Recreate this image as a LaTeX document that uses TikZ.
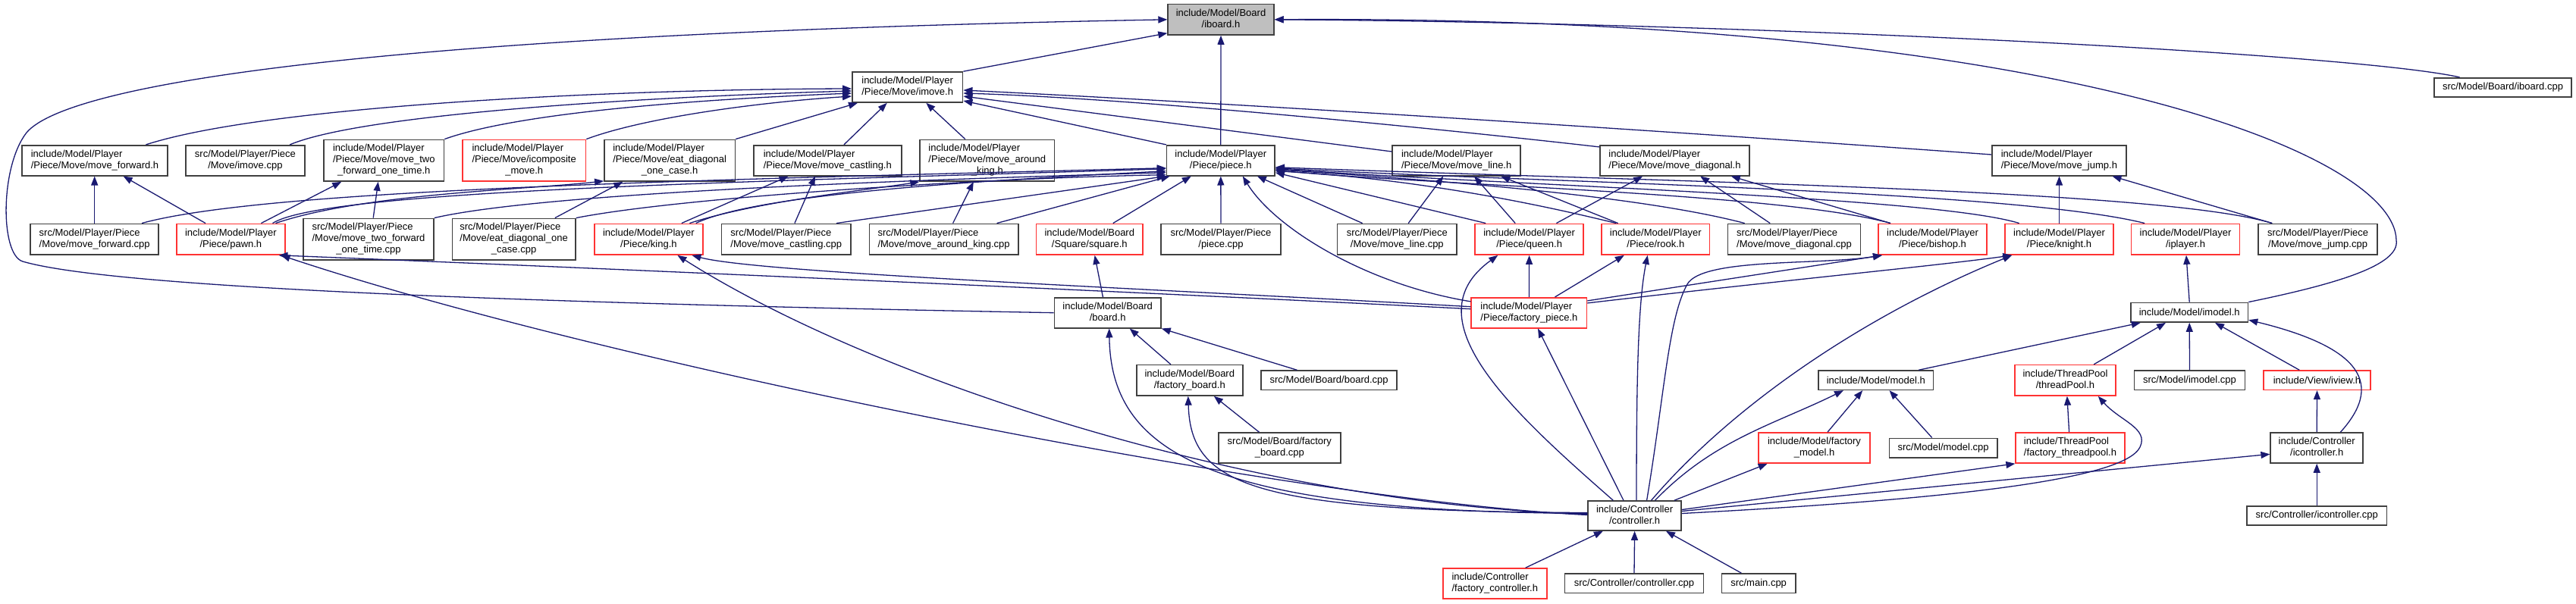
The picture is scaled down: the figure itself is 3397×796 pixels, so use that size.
\documentclass[tikz,border=0pt]{standalone}
\usepackage{fontspec}
\setmainfont{Liberation Sans}
\usetikzlibrary{arrows.meta,calc}
\definecolor{eblue}{HTML}{191970}
\definecolor{nred}{RGB}{255,51,51}
\definecolor{ngrey}{HTML}{BFBFBF}
\definecolor{nline}{HTML}{404040}
\newcommand\LabTwo[2]{\begin{tabular}{@{}l@{}}#1\\\multicolumn{1}{@{}c@{}}{#2}\end{tabular}}
\newcommand\LabThree[3]{\begin{tabular}{@{}l@{}}#1\\#2\\\multicolumn{1}{@{}c@{}}{#3}\end{tabular}}
\tikzset{
  nb/.style={draw=nline, line width=1.6pt, inner sep=0pt, fill=white, font=\fontsize{13}{15}\selectfont},
  rb/.style={nb, draw=nred},
  gb/.style={nb, fill=ngrey},
  dep/.style={draw=eblue, line width=1.3pt, -{Triangle[length=12pt,width=9pt]}},
}
\begin{document}
\begin{tikzpicture}[x=1pt,y=-1pt]
\useasboundingbox (0,0) rectangle (3397,796);
% ---------- nodes ----------
\node[gb, minimum width=139.8pt, minimum height=40.3pt] (iboard) at (1610,25.8) {\LabTwo{include/Model/Board}{/iboard.h}};
\node[nb, minimum width=181pt, minimum height=25pt] (iboardcpp) at (3300.5,115.2) {src/Model/Board/iboard.cpp};
\node[nb, minimum width=145.8pt, minimum height=40pt] (imove) at (1196.7,115) {\LabTwo{include/Model/Player}{/Piece/Move/imove.h}};
% row 2
\node[nb, minimum width=192.5pt, minimum height=40pt] (mfwdh) at (125,211.7) {\LabTwo{include/Model/Player}{/Piece/Move/move\_forward.h}};
\node[nb, minimum width=156.7pt, minimum height=40pt] (imovecpp) at (323.4,211.7) {\LabTwo{src/Model/Player/Piece}{/Move/imove.cpp}};
\node[nb, minimum width=158.3pt, minimum height=54.7pt] (m2fh) at (506.3,211.7) {\LabThree{include/Model/Player}{/Piece/Move/move\_two}{\_forward\_one\_time.h}};
\node[rb, minimum width=162.6pt, minimum height=54.7pt] (icomp) at (691.2,211.7) {\LabThree{include/Model/Player}{/Piece/Move/icomposite}{\_move.h}};
\node[nb, minimum width=172.4pt, minimum height=54.7pt] (eatdh) at (883.1,211.7) {\LabThree{include/Model/Player}{/Piece/Move/eat\_diagonal}{\_one\_case.h}};
\node[nb, minimum width=195.1pt, minimum height=40pt] (mcasth) at (1091.3,211.7) {\LabTwo{include/Model/Player}{/Piece/Move/move\_castling.h}};
\node[nb, minimum width=177.3pt, minimum height=54.7pt] (maroundh) at (1301.8,211.7) {\LabThree{include/Model/Player}{/Piece/Move/move\_around}{\_king.h}};
\node[nb, minimum width=142.5pt, minimum height=40pt] (piece) at (1609.8,211.7) {\LabTwo{include/Model/Player}{/Piece/piece.h}};
\node[nb, minimum width=169.1pt, minimum height=40pt] (mlineh) at (1920.7,211.7) {\LabTwo{include/Model/Player}{/Piece/Move/move\_line.h}};
\node[nb, minimum width=197.3pt, minimum height=40pt] (mdiagh) at (2208.5,211.7) {\LabTwo{include/Model/Player}{/Piece/Move/move\_diagonal.h}};
\node[nb, minimum width=177.3pt, minimum height=40pt] (mjumph) at (2715.4,211.7) {\LabTwo{include/Model/Player}{/Piece/Move/move\_jump.h}};
% row 3
\node[nb, minimum width=169.1pt, minimum height=40.7pt] (mfwdcpp) at (124.7,315.7) {\LabTwo{src/Model/Player/Piece}{/Move/move\_forward.cpp}};
\node[rb, minimum width=142.6pt, minimum height=40.7pt] (pawn) at (304.4,315.7) {\LabTwo{include/Model/Player}{/Piece/pawn.h}};
\node[nb, minimum width=171.8pt, minimum height=54.7pt] (m2fcpp) at (486,315.7) {\LabThree{src/Model/Player/Piece}{/Move/move\_two\_forward}{\_one\_time.cpp}};
\node[nb, minimum width=162.6pt, minimum height=54.7pt] (eatdcpp) at (677.6,315.7) {\LabThree{src/Model/Player/Piece}{/Move/eat\_diagonal\_one}{\_case.cpp}};
\node[rb, minimum width=143.1pt, minimum height=40.7pt] (king) at (855.4,315.7) {\LabTwo{include/Model/Player}{/Piece/king.h}};
\node[nb, minimum width=170.7pt, minimum height=40.7pt] (mcastcpp) at (1036.8,315.7) {\LabTwo{src/Model/Player/Piece}{/Move/move\_castling.cpp}};
\node[nb, minimum width=196.3pt, minimum height=40.7pt] (maroundcpp) at (1244.6,315.7) {\LabTwo{src/Model/Player/Piece}{/Move/move\_around\_king.cpp}};
\node[rb, minimum width=140.4pt, minimum height=40.7pt] (square) at (1436.8,315.7) {\LabTwo{include/Model/Board}{/Square/square.h}};
\node[nb, minimum width=158.3pt, minimum height=40.7pt] (piececpp) at (1610,315.7) {\LabTwo{src/Model/Player/Piece}{/piece.cpp}};
\node[nb, minimum width=157.8pt, minimum height=40.7pt] (mlinecpp) at (1842.3,315.7) {\LabTwo{src/Model/Player/Piece}{/Move/move\_line.cpp}};
\node[rb, minimum width=143.1pt, minimum height=40.7pt] (queen) at (2016.6,315.7) {\LabTwo{include/Model/Player}{/Piece/queen.h}};
\node[rb, minimum width=142.6pt, minimum height=40.7pt] (rook) at (2183.3,315.7) {\LabTwo{include/Model/Player}{/Piece/rook.h}};
\node[nb, minimum width=175.1pt, minimum height=40.7pt] (mdiagcpp) at (2366,315.7) {\LabTwo{src/Model/Player/Piece}{/Move/move\_diagonal.cpp}};
\node[rb, minimum width=143.4pt, minimum height=40.7pt] (bishop) at (2548.5,315.7) {\LabTwo{include/Model/Player}{/Piece/bishop.h}};
\node[rb, minimum width=143.1pt, minimum height=40.7pt] (knight) at (2715.5,315.7) {\LabTwo{include/Model/Player}{/Piece/knight.h}};
\node[rb, minimum width=143.1pt, minimum height=40.7pt] (iplayer) at (2882,315.7) {\LabTwo{include/Model/Player}{/iplayer.h}};
\node[nb, minimum width=157.2pt, minimum height=40.7pt] (mjumpcpp) at (3056.6,315.7) {\LabTwo{src/Model/Player/Piece}{/Move/move\_jump.cpp}};
% row 4
\node[nb, minimum width=140.4pt, minimum height=40pt] (board) at (1460.7,412.7) {\LabTwo{include/Model/Board}{/board.h}};
\node[rb, minimum width=152.3pt, minimum height=40pt] (fpiece) at (2016.4,412.7) {\LabTwo{include/Model/Player}{/Piece/factory\_piece.h}};
\node[nb, minimum width=154.5pt, minimum height=25.7pt] (imodel) at (2887.2,412.2) {include/Model/imodel.h};
% row 5
\node[nb, minimum width=139.9pt, minimum height=40.3pt] (fboard) at (1568.8,501.8) {\LabTwo{include/Model/Board}{/factory\_board.h}};
\node[nb, minimum width=178.9pt, minimum height=25.3pt] (boardcpp) at (1752.6,501.7) {src/Model/Board/board.cpp};
\node[nb, minimum width=151.2pt, minimum height=25.3pt] (model) at (2473.8,501.7) {include/Model/model.h};
\node[rb, minimum width=132.9pt, minimum height=40.3pt] (threadpool) at (2723.5,501.8) {\LabTwo{include/ThreadPool}{/threadPool.h}};
\node[nb, minimum width=146.3pt, minimum height=25.3pt] (imodelcpp) at (2887.5,501.7) {src/Model/imodel.cpp};
\node[rb, minimum width=141pt, minimum height=25.3pt] (iview) at (3055.5,501.7) {include/View/iview.h};
% row 6
\node[nb, minimum width=161pt, minimum height=40pt] (fboardcpp) at (1687.3,591) {\LabTwo{src/Model/Board/factory}{\_board.cpp}};
\node[rb, minimum width=146.9pt, minimum height=40pt] (fmodel) at (2392.5,591) {\LabTwo{include/Model/factory}{\_model.h}};
\node[nb, minimum width=142.2pt, minimum height=25.4pt] (modelcpp) at (2562.6,591) {src/Model/model.cpp};
\node[rb, minimum width=143.7pt, minimum height=40pt] (fthreadpool) at (2730,591) {\LabTwo{include/ThreadPool}{/factory\_threadpool.h}};
\node[nb, minimum width=122pt, minimum height=40pt] (icontroller) at (3055.2,591) {\LabTwo{include/Controller}{/icontroller.h}};
% row 7
\node[nb, minimum width=123.1pt, minimum height=39pt] (controller) at (2155.6,680.5) {\LabTwo{include/Controller}{/controller.h}};
\node[nb, minimum width=184.8pt, minimum height=25pt] (icontrollercpp) at (3055.2,680.2) {src/Controller/icontroller.cpp};
% row 8
\node[rb, minimum width=137.2pt, minimum height=40pt] (fcontroller) at (1971.3,770) {\LabTwo{include/Controller}{/factory\_controller.h}};
\node[nb, minimum width=182.7pt, minimum height=25.7pt] (controllercpp) at (2155,769.8) {src/Controller/controller.cpp};
\node[nb, minimum width=97.6pt, minimum height=25.7pt] (maincpp) at (2319.1,769.8) {src/main.cpp};
% ---------- edges ----------
% to iboard
\draw[dep] (imove.north east) -- ($(iboard.south west)+(0,-3)$);
\draw[dep] (piece.north) -- (iboard.south);
\draw[dep] (board.west) .. controls (700,400) and (150,380) .. (30,345) .. controls (0,336) and (0,220) .. (35,175) .. controls (90,110) and (500,45) .. (iboard.west);
\draw[dep] ($(iboardcpp.north)+(-57,0)$) .. controls (3100,70) and (2300,30) .. (iboard.east);
\draw[dep] (imodel.north east) .. controls (3080,375) and (3165,350) .. (3160,317) .. controls (3158,200) and (2700,20) .. (iboard.east);
% to imove
\draw[dep] ($(mfwdh.north)+(67.4,0)$) .. controls (350,140) and (800,118) .. ($(imove.west)+(0,2)$);
\draw[dep] ($(imovecpp.north)+(58.8,0)$) .. controls (480,150) and (850,128) .. ($(imove.west)+(0,5)$);
\draw[dep] (m2fh.north east) .. controls (680,150) and (900,132) .. ($(imove.west)+(0,8)$);
\draw[dep] (icomp.north east) .. controls (850,155) and (1000,135) .. ($(imove.west)+(0,12)$);
\draw[dep] (eatdh.north east) -- ($(imove.south west)+(8,0)$);
\draw[dep] ($(mcasth.north)+(21.6,0)$) -- ($(imove.south)+(-27,0)$);
\draw[dep] ($(maroundh.north)+(-29,0)$) -- ($(imove.south)+(24.6,0)$);
\draw[dep] (piece.north west) -- ($(imove.east)+(0,18)$);
\draw[dep] ($(mlineh.west)+(0,-11.7)$) -- ($(imove.east)+(0,12)$);
\draw[dep] ($(mdiagh.north west)+(0,3)$) .. controls (1900,170) and (1500,130) .. ($(imove.east)+(0,8)$);
\draw[dep] ($(mjumph.west)+(0,-7.7)$) .. controls (2300,180) and (1700,140) .. ($(imove.east)+(0,4)$);
% to piece
\draw[dep] ($(pawn.north east)+(-17,0)$) .. controls (430,250) and (1000,240) .. ($(piece.west)+(0,11)$);
\draw[dep] ($(king.north east)+(-10,0)$) .. controls (1000,255) and (1300,238) .. ($(piece.west)+(0,14)$);
\draw[dep] ($(mfwdcpp.north)+(62.3,0)$) .. controls (350,250) and (900,238) .. ($(piece.west)+(0,10)$);
\draw[dep] (m2fcpp.north east) .. controls (700,258) and (1100,240) .. ($(piece.west)+(0,16)$);
\draw[dep] (eatdcpp.north east) .. controls (900,260) and (1300,235) .. ($(piece.west)+(0,19)$);
\draw[dep] ($(mcastcpp.north east)+(-20,0)$) -- (piece.south west);
\draw[dep] ($(maroundcpp.north east)+(-29,0)$) -- ($(piece.south west)+(5,0)$);
\draw[dep] ($(square.north)+(31,0)$) -- ($(piece.south)+(-39,0)$);
\draw[dep] (piececpp.north) -- (piece.south);
\draw[dep] ($(fpiece.north west)+(0,6)$) .. controls (1800,375) and (1680,300) .. ($(piece.south)+(29,0)$);
\draw[dep] ($(mlinecpp.north west)+(34,0)$) -- ($(piece.south)+(48,0)$);
\draw[dep] ($(queen.north west)+(15,0)$) -- ($(piece.east)+(0,16)$);
\draw[dep] ($(rook.north west)+(20,0)$) .. controls (1950,250) and (1800,232) .. ($(piece.east)+(0,14)$);
\draw[dep] ($(mdiagcpp.north west)+(23,0)$) .. controls (2150,255) and (1850,235) .. ($(piece.east)+(0,12)$);
\draw[dep] ($(bishop.north west)+(17,0)$) .. controls (2350,255) and (1900,245) .. ($(piece.east)+(0,13)$);
\draw[dep] ($(knight.north west)+(19.5,0)$) .. controls (2550,260) and (2000,245) .. ($(piece.east)+(0,11)$);
\draw[dep] ($(iplayer.north west)+(18.5,0)$) .. controls (2650,250) and (2000,240) .. ($(piece.east)+(0,10)$);
\draw[dep] ($(mjumpcpp.north west)+(19,0)$) .. controls (2850,250) and (2200,240) .. ($(piece.east)+(0,9)$);
% pawn row
\draw[dep] ($(pawn.north)+(-33.4,0)$) -- ($(mfwdh.south)+(37.6,0)$);
\draw[dep] ($(pawn.north)+(40,0)$) -- ($(m2fh.south)+(-56,0)$);
\draw[dep] ($(pawn.north east)+(-13,0)$) .. controls (480,255) and (700,250) .. ($(eatdh.south west)+(0,-1)$);
\draw[dep] (mfwdcpp.north) -- (mfwdcpp.north |- mfwdh.south);
\draw[dep] ($(m2fcpp.north)+(6.2,0)$) -- ($(m2fh.south)+(-7.6,0)$);
\draw[dep] ($(eatdcpp.north)+(54.2,0)$) -- ($(eatdh.south)+(-61.8,0)$);
% king row
\draw[dep] ($(king.north)+(43.4,0)$) -- ($(mcasth.south)+(-51.6,0)$);
\draw[dep] ($(king.north)+(54,0)$) .. controls (1000,265) and (1150,250) .. (maroundh.south west);
\draw[dep] ($(mcastcpp.north)+(11.1,0)$) -- ($(mcasth.south)+(-16.3,0)$);
\draw[dep] ($(maroundcpp.north)+(12,0)$) -- ($(maroundh.south)+(-18,0)$);
% queen, rook, bishop, knight
\draw[dep] ($(queen.north)+(-18.4,0)$) -- ($(mlineh.south)+(23.3,0)$);
\draw[dep] ($(queen.north)+(35.8,0)$) -- ($(mdiagh.south)+(-42.3,0)$);
\draw[dep] ($(rook.north)+(-49.6,0)$) -- ($(mlineh.south)+(58.5,0)$);
\draw[dep] ($(mlinecpp.north)+(14.9,0)$) -- ($(mlineh.south)+(-17.4,0)$);
\draw[dep] ($(mdiagcpp.north)+(-31.8,0)$) -- ($(mdiagh.south)+(33.6,0)$);
\draw[dep] ($(bishop.north west)+(17,0)$) -- ($(mdiagh.south)+(74.2,0)$);
\draw[dep] (knight.north) -- (knight.north |- mjumph.south);
\draw[dep] ($(mjumpcpp.north west)+(19,0)$) -- ($(mjumph.south)+(70,0)$);
% factory_piece
\draw[dep] ($(fpiece.west)+(0,-5)$) .. controls (1500,385) and (700,350) .. ($(pawn.south east)+(-9,0)$);
\draw[dep] ($(fpiece.west)+(0,-8)$) .. controls (1500,380) and (1000,360) .. ($(king.south)+(57,0)$);
\draw[dep] (fpiece.north) -- (queen.south);
\draw[dep] ($(fpiece.north east)+(-42.8,0)$) -- ($(rook.south)+(-41.5,0)$);
\draw[dep] ($(fpiece.north east)+(0,5)$) -- ($(bishop.south west)+(6,0)$);
\draw[dep] ($(fpiece.north east)+(0,8)$) .. controls (2350,370) and (2560,350) .. ($(knight.south west)+(10,0)$);
% controller
\draw[dep] ($(controller.west)+(0,-1)$) .. controls (1700,660) and (800,480) .. ($(pawn.south east)+(-6,0)$);
\draw[dep] ($(controller.west)+(0,-2)$) .. controls (1650,665) and (1150,500) .. ($(king.south)+(38,0)$);
\draw[dep] ($(controller.west)+(0,-3)$) .. controls (1600,675) and (1465,600) .. ($(board.south)+(2,0)$);
\draw[dep] ($(controller.west)+(0,-4)$) .. controls (1650,675) and (1570,640) .. ($(fboard.south)+(-2,0)$);
\draw[dep] ($(controller.north west)+(34,0)$) .. controls (1990,540) and (1860,420) .. ($(queen.south west)+(31,0)$);
\draw[dep] ($(controller.north west)+(47.7,0)$) -- ($(fpiece.south)+(11.6,0)$);
\draw[dep] ($(controller.north)+(2.4,0)$) .. controls (2158,500) and (2160,400) .. ($(rook.south)+(-10.6,0)$);
\draw[dep] ($(controller.north)+(16,0)$) .. controls (2195,520) and (2200,420) .. (2225,375) .. controls (2245,340) and (2400,350) .. ($(bishop.south west)+(6,0)$);
\draw[dep] ($(controller.north)+(22,0)$) .. controls (2280,540) and (2450,420) .. ($(knight.south west)+(10,0)$);
\draw[dep] ($(controller.north)+(27,0)$) .. controls (2260,580) and (2340,560) .. ($(model.south west)+(33.6,0)$);
\draw[dep] ($(controller.north east)+(-10,0)$) -- ($(fmodel.south west)+(12.4,0)$);
\draw[dep] ($(controller.east)+(0,-8)$) -- (fthreadpool.south west);
\draw[dep] ($(controller.east)+(0,-6)$) -- ($(icontroller.west)+(0,8.3)$);
\draw[dep] ($(controller.east)+(0,-3)$) .. controls (2550,660) and (2800,635) .. (2822,590) .. controls (2834,565) and (2795,555) .. ($(threadpool.south east)+(-24,0)$);
\draw[dep] ($(fcontroller.north)+(40.4,0)$) -- ($(controller.south west)+(20.6,0)$);
\draw[dep] (controllercpp.north) -- (controller.south);
\draw[dep] ($(maincpp.north)+(-22.8,0)$) -- ($(controller.south east)+(-21,0)$);
% board
\draw[dep] ($(board.north)+(-6.3,0)$) -- ($(square.south)+(6.8,0)$);
\draw[dep] ($(fboard.north)+(-24.9,0)$) -- ($(board.south)+(29,0)$);
\draw[dep] ($(boardcpp.north west)+(48,0)$) -- (board.south east);
\draw[dep] ($(fboardcpp.north)+(-26.9,0)$) -- ($(fboard.south)+(32,0)$);
% model
\draw[dep] ($(fmodel.north)+(17.5,0)$) -- ($(model.south)+(-17.6,0)$);
\draw[dep] ($(modelcpp.north west)+(57,0)$) -- ($(model.south)+(17.7,0)$);
\draw[dep] ($(model.north east)+(-20,0)$) -- ($(imodel.south west)+(13.6,0)$);
% imodel
\draw[dep] ($(threadpool.north)+(37.6,0)$) -- ($(imodel.south)+(-31.2,0)$);
\draw[dep] (imodelcpp.north) -- (imodel.south);
\draw[dep] ($(iview.north)+(-23.3,0)$) -- ($(imodel.south)+(33.8,0)$);
\draw[dep] ($(icontroller.north)+(31.2,0)$) .. controls (3150,500) and (3100,455) .. ($(imodel.east)+(0,10)$);
\draw[dep] (imodel.north) -- ($(iplayer.south)+(1,0)$);
\draw[dep] (icontroller.north) -- (iview.south);
\draw[dep] (icontrollercpp.north) -- (icontroller.south);
\draw[dep] ($(fthreadpool.north)+(-1.4,0)$) -- ($(threadpool.south)+(2.4,0)$);
\end{tikzpicture}
\end{document}
